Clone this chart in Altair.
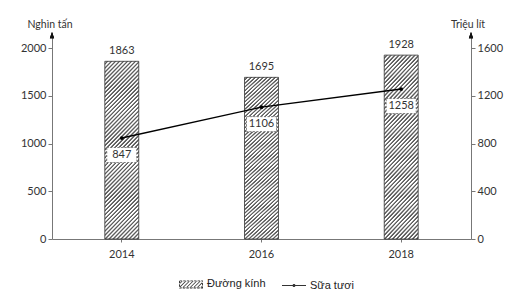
import altair as alt
import pandas as pd

# ---- data ----
years = ["2014", "2016", "2018"]
duong_kinh = [1863, 1695, 1928]   # nghìn tấn
sua_tuoi = [847, 1106, 1258]      # triệu lít
left_ticks = [0, 500, 1000, 1500, 2000]
right_ticks = [0, 400, 800, 1200, 1600]
series_names = ["Đường kính", "Sữa tươi"]
axis_titles = ["Nghìn tấn", "Triệu lít"]

W, H = 419, 206
LEFT_MAX, RIGHT_MAX = 2160, 1728
BAR_W = 34

df = pd.DataFrame({"year": years, "dk": duong_kinh, "st": sua_tuoi})
legend_df = pd.DataFrame({"s": series_names})

# ---- hatch fill built as a striped linear gradient (soft edges to avoid moiré) ----
h_avg = sum(H * v / LEFT_MAX for v in duong_kinh) / len(duong_kinh)
r = h_avg / BAR_W
a = (1 + r) / (1 + r * r)
period = 4.0 / (BAR_W + h_avg)
dark = "#5e5e5e"
light = "#ffffff"
stops = []
k = 0
while k * period < 1:
    o = k * period
    for f, col in [(0.0, light), (0.3, light), (0.6, dark), (0.85, dark), (1.0, light)]:
        stops.append(alt.GradientStop(offset=round(min(o + f * period, 1), 5), color=col))
    k += 1
hatch = alt.LinearGradient(gradient="linear", stops=stops, x1=0, y1=0, x2=a, y2=a * r)


# ---- legend symbol shapes (unit-square paths) ----
def clip_x(poly, lo, hi):
    def clip(pts, inside, inter):
        out = []
        for i in range(len(pts)):
            p, q = pts[i - 1], pts[i]
            if inside(q):
                if not inside(p):
                    out.append(inter(p, q))
                out.append(q)
            elif inside(p):
                out.append(inter(p, q))
        return out

    def ix(p, q, xv):
        t = (xv - p[0]) / (q[0] - p[0])
        return (xv, p[1] + t * (q[1] - p[1]))

    pts = clip(poly, lambda p: p[0] >= lo, lambda p, q: ix(p, q, lo))
    if pts:
        pts = clip(pts, lambda p: p[0] <= hi, lambda p, q: ix(p, q, hi))
    return pts


def poly_path(pts):
    return "M" + "L".join(f"{x:.3f},{y:.3f}" for x, y in pts) + "Z"


hy, fw = 0.34, 0.08
hatch_sym = poly_path([(-1, -hy), (1, -hy), (1, hy), (-1, hy)])
hatch_sym += poly_path([(-1 + fw, -hy + fw), (-1 + fw, hy - fw), (1 - fw, hy - fw), (1 - fw, -hy + fw)])
x0 = -1.7
while x0 < 1:
    sw = 0.09
    rise = 2 * hy
    poly = [(x0, hy), (x0 + sw, hy), (x0 + sw + rise, -hy), (x0 + rise, -hy)]
    c = clip_x(poly, -1, 1)
    if len(c) >= 3:
        hatch_sym += poly_path(c)
    x0 += 0.3
line_sym = "M-1,-0.045L1,-0.045L1,0.045L-1,0.045Z"
line_sym += "M0.13,0A0.13,0.13 0 1 1 -0.13,0A0.13,0.13 0 1 1 0.13,0Z"

FONT = "Lato"
x_enc = alt.X(
    "year:N",
    scale=alt.Scale(paddingInner=0.757, paddingOuter=0.378),
    axis=alt.Axis(title=None, labelAngle=0, tickSize=3, labelPadding=6),
)
y_left = alt.Y(
    "dk:Q",
    scale=alt.Scale(domain=[0, LEFT_MAX], nice=False),
    axis=alt.Axis(values=left_ticks, format="d", title=None),
)
y_right = alt.Y(
    "st:Q",
    scale=alt.Scale(domain=[0, RIGHT_MAX], nice=False),
    axis=alt.Axis(orient="right", values=right_ticks, format="d", title=None),
)

arrow_path = "M0,0L-0.6,1.8L0.6,1.8Z"

base = alt.Chart(df)
bars = base.mark_bar(fill=hatch, stroke="#333", strokeWidth=0.8).encode(x=x_enc, y=y_left)
bar_text = base.mark_text(baseline="bottom", dy=-5, font=FONT, fontSize=11, color="#333").encode(
    x=x_enc, y=y_left, text="dk:Q"
)
left_arrow = base.mark_point(shape=arrow_path, size=49, filled=True, color="#111", opacity=1).encode(
    x=alt.value(0), y=alt.value(-1)
)
left = alt.layer(bars, bar_text, left_arrow)

line = base.mark_line(color="black", strokeWidth=1.4).encode(x=x_enc, y=y_right)
pts = base.mark_point(filled=True, color="black", size=14, opacity=1).encode(x=x_enc, y=y_right)
boxes = base.mark_point(
    shape="M-1,-0.5L1,-0.5L1,0.5L-1,0.5Z", size=900, filled=True, fill="white",
    stroke="#666", strokeWidth=0.8, strokeDash=[2, 1.5], yOffset=17, opacity=1,
).encode(x=x_enc, y=y_right)
line_text = base.mark_text(yOffset=17, baseline="middle", font=FONT, fontSize=11, color="#333").encode(
    x=x_enc, y=y_right, text="st:Q"
)
right_arrow = base.mark_point(shape=arrow_path, size=49, filled=True, color="#111", opacity=1).encode(
    x=alt.value(W), y=alt.value(-1)
)
right = alt.layer(line, pts, boxes, line_text, right_arrow)

# axis unit titles above the two value axes
title_style = dict(font=FONT, fontSize=10.5, color="#333", align="center", baseline="middle")
left_title = alt.Chart(pd.DataFrame({"t": [axis_titles[0]]})).mark_text(**title_style).encode(
    text="t:N", x=alt.value(-2), y=alt.value(-8)
)
right_title = alt.Chart(pd.DataFrame({"t": [axis_titles[1]]})).mark_text(**title_style).encode(
    text="t:N", x=alt.value(W - 3), y=alt.value(-8)
)

legend_layer = alt.Chart(legend_df).mark_point(filled=True, color="#333", opacity=0).encode(
    shape=alt.Shape(
        "s:N",
        scale=alt.Scale(domain=series_names, range=[hatch_sym, line_sym]),
        legend=alt.Legend(
            orient="none", legendX=126, legendY=238, direction="horizontal", title=None,
            symbolSize=576, symbolOpacity=1, labelFont="Liberation Sans",
            labelFontSize=11, labelColor="#222", labelOffset=3, columnPadding=13,
        ),
    )
)

chart = (
    alt.layer(left, right, left_title, right_title, legend_layer)
    .resolve_scale(y="independent")
    .properties(
        width=W, height=H,
        autosize=alt.AutoSizeParams(type="none"),
        padding={"left": 52, "top": 33, "right": 55, "bottom": 50},
        background="white",
    )
    .configure_view(stroke=None)
    .configure_axis(
        grid=False, domainColor="#777", tickColor="#777", labelColor="#333",
        labelFont=FONT, labelFontSize=11, tickSize=4,
    )
)

chart.save("out.html", embed_options={"renderer": "svg", "actions": False})
